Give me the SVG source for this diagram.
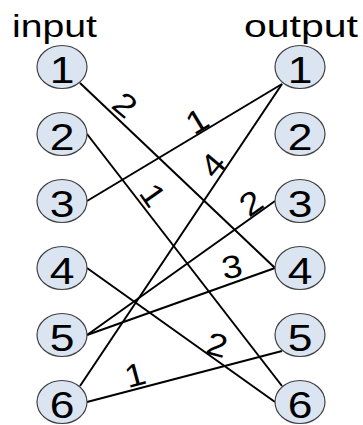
<svg xmlns="http://www.w3.org/2000/svg" width="363" height="425" viewBox="0 0 363 425">
<style>
.node{fill:#dbe5f1;stroke:#404040;stroke-width:1.2}
.num{font-family:"Liberation Sans",Arial,sans-serif;font-size:37px;fill:#000;text-anchor:middle}
.title{font-family:"Liberation Sans",Arial,sans-serif;font-size:32px;fill:#000}
.edge{stroke:#000;stroke-width:2;fill:none}
.lbl{font-family:"Liberation Sans",Arial,sans-serif;font-size:32px;fill:#000;text-anchor:middle}
</style>
<rect width="363" height="425" fill="#fff"/>
<text class="title" x="12" y="37" textLength="85" lengthAdjust="spacingAndGlyphs">input</text>
<text class="title" x="244" y="37" textLength="114" lengthAdjust="spacingAndGlyphs">output</text>
<g id="connectors">
<line class="edge" x1="80" y1="83" x2="275" y2="268"/>
<line class="edge" x1="87" y1="134" x2="282" y2="386"/>
<line class="edge" x1="87" y1="201" x2="282" y2="84"/>
<line class="edge" x1="87" y1="268" x2="275" y2="402"/>
<line class="edge" x1="87" y1="335" x2="275" y2="201"/>
<line class="edge" x1="87" y1="335" x2="275" y2="268"/>
<line class="edge" x1="80" y1="386" x2="282" y2="84"/>
<line class="edge" x1="87" y1="402" x2="282" y2="351"/>
<text class="lbl" transform="translate(125,105) rotate(40) scale(1.15,1)" y="11">2</text>
<text class="lbl" transform="translate(153,195) rotate(55) scale(1.15,1)" y="11">1</text>
<text class="lbl" transform="translate(197,121) rotate(-31) scale(1.15,1)" y="11">1</text>
<text class="lbl" transform="translate(213,165) rotate(-50) scale(1.15,1)" y="11">4</text>
<text class="lbl" transform="translate(251,203) rotate(-35) scale(1.15,1)" y="11">2</text>
<text class="lbl" transform="translate(232,267) rotate(-10) scale(1.15,1)" y="11">3</text>
<text class="lbl" transform="translate(217,345) rotate(15) scale(1.15,1)" y="11">2</text>
<text class="lbl" transform="translate(135,375) rotate(-15) scale(1.15,1)" y="11">1</text>
</g>
<g id="in1"><ellipse class="node" cx="62" cy="67" rx="25" ry="21.5"/><text class="num" transform="translate(62,83) scale(1.2,1)">1</text></g>
<g id="in2"><ellipse class="node" cx="62" cy="134" rx="25" ry="21.5"/><text class="num" transform="translate(62,150) scale(1.2,1)">2</text></g>
<g id="in3"><ellipse class="node" cx="62" cy="201" rx="25" ry="21.5"/><text class="num" transform="translate(62,217) scale(1.2,1)">3</text></g>
<g id="in4"><ellipse class="node" cx="62" cy="268" rx="25" ry="21.5"/><text class="num" transform="translate(62,284) scale(1.2,1)">4</text></g>
<g id="in5"><ellipse class="node" cx="62" cy="335" rx="25" ry="21.5"/><text class="num" transform="translate(62,351) scale(1.2,1)">5</text></g>
<g id="in6"><ellipse class="node" cx="62" cy="402" rx="25" ry="21.5"/><text class="num" transform="translate(62,418) scale(1.2,1)">6</text></g>
<g id="out1"><ellipse class="node" cx="300" cy="67" rx="25" ry="21.5"/><text class="num" transform="translate(300,83) scale(1.2,1)">1</text></g>
<g id="out2"><ellipse class="node" cx="300" cy="134" rx="25" ry="21.5"/><text class="num" transform="translate(300,150) scale(1.2,1)">2</text></g>
<g id="out3"><ellipse class="node" cx="300" cy="201" rx="25" ry="21.5"/><text class="num" transform="translate(300,217) scale(1.2,1)">3</text></g>
<g id="out4"><ellipse class="node" cx="300" cy="268" rx="25" ry="21.5"/><text class="num" transform="translate(300,284) scale(1.2,1)">4</text></g>
<g id="out5"><ellipse class="node" cx="300" cy="335" rx="25" ry="21.5"/><text class="num" transform="translate(300,351) scale(1.2,1)">5</text></g>
<g id="out6"><ellipse class="node" cx="300" cy="402" rx="25" ry="21.5"/><text class="num" transform="translate(300,418) scale(1.2,1)">6</text></g>
</svg>
